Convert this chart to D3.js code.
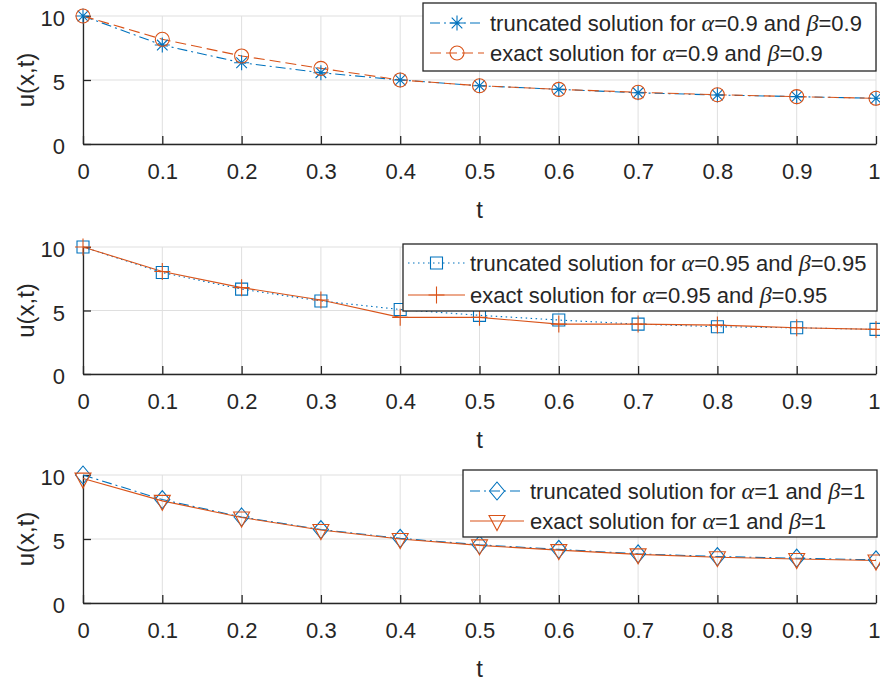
<!DOCTYPE html>
<html>
<head>
<meta charset="utf-8">
<script src="https://cdn.jsdelivr.net/npm/d3@7"></script>
<style>
  html, body { margin: 0; padding: 0; background: #fff; }
  svg { display: block; }
  text { font-family: "Liberation Sans", Arial, Helvetica, sans-serif; fill: #262626; }
</style>
</head>
<body>
<svg id="chart" width="880" height="681"></svg>
<script>
// ---- data ----
const tValues = [0, 0.1, 0.2, 0.3, 0.4, 0.5, 0.6, 0.7, 0.8, 0.9, 1];
const xTickLabels = ["0", "0.1", "0.2", "0.3", "0.4", "0.5", "0.6", "0.7", "0.8", "0.9", "1"];
const yTicks = [0, 5, 10];

const truncated1 = [10, 7.73, 6.35, 5.57, 5.0, 4.55, 4.27, 4.0, 3.83, 3.70, 3.57];
const exact1     = [10, 8.18, 6.88, 5.91, 5.0, 4.55, 4.27, 4.04, 3.85, 3.70, 3.57];

const truncated2 = [10, 7.99, 6.68, 5.75, 5.08, 4.62, 4.25, 3.93, 3.72, 3.64, 3.51];
const exact2     = [10, 8.07, 6.80, 5.83, 4.46, 4.46, 3.93, 3.93, 3.85, 3.64, 3.51];

const truncated3 = [10, 8.08, 6.72, 5.74, 5.05, 4.55, 4.19, 3.84, 3.63, 3.50, 3.37];
const exact3     = [9.72, 7.98, 6.68, 5.70, 5.0, 4.50, 4.13, 3.80, 3.58, 3.44, 3.32];

const legend1 = [["truncated solution for ", "α", "=0.9 and ", "β", "=0.9"],
                 ["exact solution for ", "α", "=0.9 and ", "β", "=0.9"]];
const legend2 = [["truncated solution for ", "α", "=0.95 and ", "β", "=0.95"],
                 ["exact solution for ", "α", "=0.95 and ", "β", "=0.95"]];
const legend3 = [["truncated solution for ", "α", "=1 and ", "β", "=1"],
                 ["exact solution for ", "α", "=1 and ", "β", "=1"]];

const xLabel = "t";
const yLabel = "u(x,t)";

// ---- styles ----
const BLUE = "#0072BD", ORANGE = "#D95319";
const DASH = { dashdot: "10,4,2,4", dashed: "11,5", dotted: "1.5,3.5", solid: null };

const panels = [
  { top: 16, bottom: 144, series: [
      { vals: truncated1, color: BLUE, dash: "dashdot", marker: "asterisk" },
      { vals: exact1, color: ORANGE, dash: "dashed", marker: "circle" }],
    legend: { x0: 423, x1: 876, y0: 3, y1: 71, rows: [23, 53], lineX: [430, 484], textX: 490 },
    legendText: legend1 },
  { top: 247, bottom: 374, series: [
      { vals: truncated2, color: BLUE, dash: "dotted", marker: "square" },
      { vals: exact2, color: ORANGE, dash: "solid", marker: "plus" }],
    legend: { x0: 403, x1: 877, y0: 244, y1: 311, rows: [263, 295], lineX: [408, 465], textX: 470 },
    legendText: legend2 },
  { top: 475, bottom: 603, series: [
      { vals: truncated3, color: BLUE, dash: "dashdot", marker: "diamond" },
      { vals: exact3, color: ORANGE, dash: "solid", marker: "triangleDown" }],
    legend: { x0: 463, x1: 877, y0: 470, y1: 537, rows: [491, 521], lineX: [470, 524], textX: 530 },
    legendText: legend3 }
];

const markerPaths = {
  asterisk: "M-7.5,0H7.5M0,-7.5V7.5M-5.3,-5.3L5.3,5.3M-5.3,5.3L5.3,-5.3",
  circle: d3.symbol().type(d3.symbolCircle).size(Math.PI * 7 * 7)(),
  square: "M-6,-6H6V6H-6Z",
  plus: "M-8,0H8M0,-8.5V8.5",
  diamond: "M0,-9L7.5,0L0,9L-7.5,0Z",
  triangleDown: "M-8,-5.5L8,-5.5L0,9.5Z"
};

const svg = d3.select("#chart");
const xLeft = 83, xRight = 876;
const x = d3.scaleLinear().domain([0, 1]).range([xLeft, xRight]);

panels.forEach(p => {
  const y = d3.scaleLinear().domain([0, 10]).range([p.bottom, p.top]);
  const g = svg.append("g");

  // grid
  g.selectAll(".vgrid").data(tValues).enter().append("line")
    .attr("x1", d => x(d)).attr("x2", d => x(d))
    .attr("y1", y(0)).attr("y2", y(10))
    .attr("stroke", "#dfdfdf").attr("stroke-width", 1);
  g.selectAll(".hgrid").data(yTicks).enter().append("line")
    .attr("x1", x(0)).attr("x2", x(1))
    .attr("y1", d => y(d)).attr("y2", d => y(d))
    .attr("stroke", "#dfdfdf").attr("stroke-width", 1);

  // axes (inward ticks)
  const xAxis = d3.axisBottom(x).tickValues(tValues).tickFormat((d, i) => xTickLabels[i])
    .tickSizeInner(-8).tickSizeOuter(0).tickPadding(19);
  const ax = g.append("g").attr("transform", `translate(0,${y(0)})`).call(xAxis);
  const yAxis = d3.axisLeft(y).tickValues(yTicks).tickSizeInner(-8).tickSizeOuter(0).tickPadding(18);
  const ay = g.append("g").attr("transform", `translate(${x(0)},0)`).call(yAxis);
  [ax, ay].forEach(a => {
    a.select(".domain").attr("stroke", "#262626").attr("stroke-width", 1.3);
    a.selectAll(".tick line").attr("stroke", "#262626").attr("stroke-width", 1.3);
    a.selectAll(".tick text").style("font-family", '"Liberation Sans", Arial, sans-serif')
      .style("font-size", "22px").attr("fill", "#262626");
  });
  ay.selectAll(".tick text").attr("dy", "0.45em");
  // keep the last x label inside the picture
  ax.selectAll(".tick text").filter((d, i) => i === tValues.length - 1)
    .attr("text-anchor", "end").attr("x", 880 - x(1));

  // axis labels
  g.append("text").attr("x", x(0.5)).attr("y", y(0) + 74)
    .attr("text-anchor", "middle").style("font-size", "24px").text(xLabel);
  g.append("text").attr("transform", `translate(34,${(y(0) + y(10)) / 2}) rotate(-90)`)
    .attr("text-anchor", "middle").style("font-size", "24px").text(yLabel);

  // series
  const line = d3.line().x((d, i) => x(tValues[i])).y(d => y(d));
  p.series.forEach(s => {
    g.append("path").datum(s.vals).attr("d", line)
      .attr("fill", "none").attr("stroke", s.color).attr("stroke-width", 1.1)
      .attr("stroke-dasharray", DASH[s.dash]);
  });
  p.series.forEach(s => {
    g.selectAll(null).data(s.vals).enter().append("path")
      .attr("transform", (d, i) => `translate(${x(tValues[i])},${y(d)})`)
      .attr("d", markerPaths[s.marker])
      .attr("fill", "none").attr("stroke", s.color).attr("stroke-width", 1.1);
  });

  // legend
  const L = p.legend;
  g.append("rect").attr("x", L.x0).attr("y", L.y0)
    .attr("width", L.x1 - L.x0).attr("height", L.y1 - L.y0)
    .attr("fill", "#fff").attr("stroke", "#262626").attr("stroke-width", 1.3);
  p.series.forEach((s, k) => {
    const ry = L.rows[k];
    g.append("line").attr("x1", L.lineX[0]).attr("x2", L.lineX[1]).attr("y1", ry).attr("y2", ry)
      .attr("stroke", s.color).attr("stroke-width", 1.1).attr("stroke-dasharray", DASH[s.dash]);
    g.append("path").attr("transform", `translate(${(L.lineX[0] + L.lineX[1]) / 2},${ry})`)
      .attr("d", markerPaths[s.marker]).attr("fill", "none")
      .attr("stroke", s.color).attr("stroke-width", 1.1);
    const txt = g.append("text").attr("x", L.textX).attr("y", ry + 8).style("font-size", "22px");
    p.legendText[k].forEach(part => {
      const ts = txt.append("tspan").text(part);
      if (part === "α" || part === "β") {
        ts.style("font-family", '"Liberation Serif", "DejaVu Serif", serif')
          .style("font-style", "italic").style("font-size", "24px");
      }
    });
  });
});
</script>
</body>
</html>
